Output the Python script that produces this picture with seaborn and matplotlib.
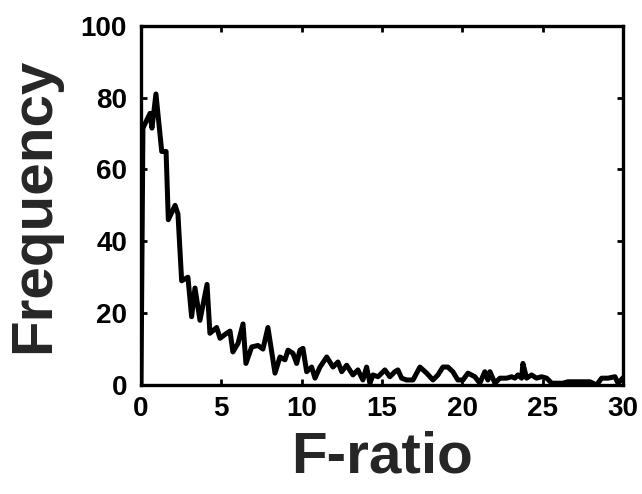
import matplotlib
matplotlib.use("Agg")
import matplotlib.pyplot as plt
import seaborn as sns
import pandas as pd

# F-ratio (x) and frequency (y)
f_ratio = [0.0, 0.12, 0.56, 0.68, 0.93, 1.29, 1.56, 1.70, 2.12, 2.30, 2.53, 2.92,
           3.15, 3.36, 3.67, 4.11, 4.29, 4.71, 4.92, 5.33, 5.54, 5.72, 6.04, 6.35,
           6.53, 6.89, 7.28, 7.59, 7.90, 8.34, 8.65, 8.96, 9.15, 9.46, 9.69, 9.89,
           10.08, 10.31, 10.62, 10.83, 11.14, 11.56, 11.95, 12.26, 12.49, 12.80,
           13.19, 13.50, 13.81, 14.04, 14.25, 14.44, 14.75, 14.98, 15.18, 15.49,
           15.80, 15.99, 16.22, 16.53, 16.93, 17.36, 17.78, 18.17, 18.48, 18.79,
           19.10, 19.41, 19.72, 20.04, 20.35, 20.78, 21.09, 21.40, 21.59, 21.72,
           22.03, 22.34, 22.76, 23.07, 23.27, 23.46, 23.69, 23.77, 24.00, 24.31,
           24.62, 24.93, 25.25, 25.56, 26.26, 26.57, 27.32, 27.94, 28.36, 28.67,
           29.06, 29.50, 29.69, 30.0]
frequency = [0, 71.5, 75.6, 71.5, 81, 65, 65, 46, 50, 47.6, 29, 30,
             19, 27, 18, 28, 14.4, 16, 13, 14.4, 15, 9.2, 11.6, 17,
             6, 10.6, 11, 10, 16, 3.3, 7.8, 7, 9.7, 8.8, 6, 9.7,
             10.2, 3.7, 5, 1.9, 5, 7.8, 5, 6.4, 3.7, 5.5,
             2.8, 4.2, 1.4, 5, 0.5, 2.8, 2.3, 3.3, 4.2, 2.3,
             3.7, 4.2, 1.9, 1.4, 1.4, 5, 3.3, 1.4, 2.8, 5,
             5, 3.7, 1.4, 1.4, 3.3, 2.3, 0.5, 3.7, 1.4, 3.7,
             0.5, 1.9, 1.9, 2.3, 1.9, 2.8, 1.9, 6, 1.9, 2.8,
             1.9, 2.3, 1.9, 0.5, 0.5, 0.9, 0.9, 0.9, 0, 1.9,
             1.9, 2.3, 0.5, 2.0]
x_ticks = [0, 5, 10, 15, 20, 25, 30]
y_ticks = [0, 20, 40, 60, 80, 100]

sns.set_style("ticks")
plt.rcParams["font.family"] = ["Liberation Sans", "DejaVu Sans"]

df = pd.DataFrame({"F-ratio": f_ratio, "Frequency": frequency})

fig = plt.figure(figsize=(6.42, 4.94), dpi=100)
ax = fig.add_axes([141 / 642, 1 - 385 / 494, 482 / 642, (385 - 25.7) / 494])

sns.lineplot(data=df, x="F-ratio", y="Frequency", ax=ax, color="black",
             linewidth=3.6, sort=False, estimator=None)

ax.set_xlim(0, 30)
ax.set_ylim(0, 100)
ax.set_xticks(x_ticks)
ax.set_yticks(y_ticks)
ax.set_xticklabels([str(v) for v in x_ticks], fontsize=20, fontweight="bold",
                   color="#262626")
ax.set_yticklabels([str(v) for v in y_ticks], fontsize=20, fontweight="bold",
                   color="#262626")
ax.tick_params(direction="in", length=4, width=2, top=True, right=True,
               colors="black", pad=8)
ax.tick_params(axis="y", pad=10)
for s in ax.spines.values():
    s.set_visible(True)
    s.set_linewidth(2.4)
    s.set_color("black")

ax.set_xlabel("F-ratio", fontsize=42, fontweight="bold", labelpad=6)
ax.set_ylabel("Frequency", fontsize=42, fontweight="bold", labelpad=14)

fig.savefig("out.png", dpi=100)
